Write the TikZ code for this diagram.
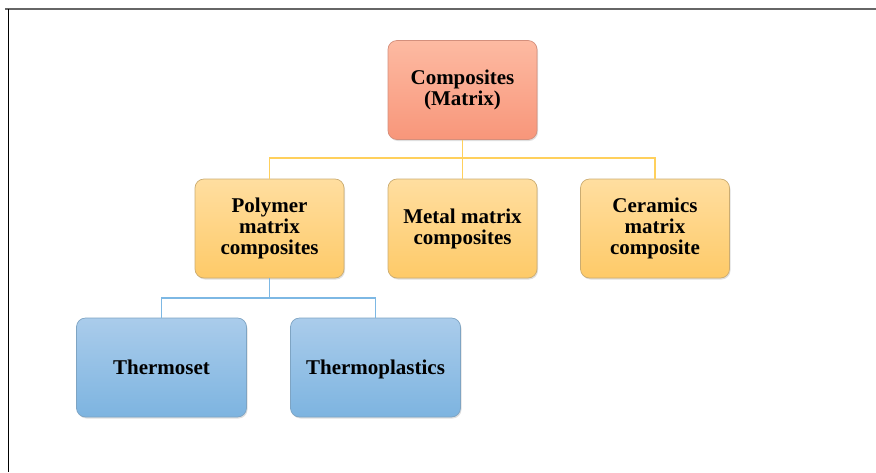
\documentclass[tikz,border=0pt]{standalone}
\usepackage{fontspec}
\setmainfont{Liberation Serif}
\usetikzlibrary{shadows}
\definecolor{redtop}{RGB}{253,186,162}
\definecolor{redbot}{RGB}{248,150,122}
\definecolor{yeltop}{RGB}{255,222,160}
\definecolor{yelbot}{RGB}{254,202,104}
\definecolor{bluetop}{RGB}{170,204,235}
\definecolor{bluebot}{RGB}{125,180,224}
\definecolor{yelline}{RGB}{255,208,92}
\definecolor{blueline}{RGB}{125,184,228}
\begin{document}
\begin{tikzpicture}[x=1pt,y=-1pt,
    box/.style={rounded corners=9pt, minimum height=99pt, align=center,
        font=\fontsize{21}{21}\selectfont\bfseries, draw, line width=0.7pt,
        drop shadow={shadow xshift=1pt, shadow yshift=-1.5pt, opacity=0.25}},
    redbox/.style={box, minimum width=149pt, draw=redbot!70!gray, top color=redtop, bottom color=redbot},
    yellowbox/.style={box, minimum width=149pt, draw=yelbot!60!gray, top color=yeltop, bottom color=yelbot},
    bluebox/.style={box, minimum width=170pt, text depth=0pt, draw=bluebot!70!gray, top color=bluetop, bottom color=bluebot},
    yline/.style={draw=yelline, line width=1.4pt},
    bline/.style={draw=blueline, line width=1.4pt}]
    \useasboundingbox (0,0) rectangle (876,472);
    % frame
    \draw[gray!80!black, line width=2pt] (5,9) -- (876,9);
    \draw[black, line width=0.8pt] (8,9) -- (8,472);
    % boxes
    \node[redbox] (comp) at (462.5,90) {Composites\\(Matrix)};
    \node[yellowbox] (poly) at (269.5,228.5) {Polymer\\matrix\\composites};
    \node[yellowbox] (metal) at (462.5,228.5) {Metal matrix\\composites};
    \node[yellowbox] (cera) at (655,228.5) {Ceramics\\matrix\\composite};
    \node[bluebox] (tset) at (161.5,367.5) {Thermoset};
    \node[bluebox] (tplast) at (375.5,367.5) {Thermoplastics};
    % connectors
    \coordinate (jy) at (462.5,158);
    \coordinate (jb) at (269.5,298);
    \draw[yline] (comp.south) -- (jy) -- (metal.north);
    \draw[yline] (poly.north) |- (jy) -| (cera.north);
    \draw[bline] (poly.south) -- (jb);
    \draw[bline] (tset.north) |- (jb) -| (tplast.north);
\end{tikzpicture}
\end{document}
